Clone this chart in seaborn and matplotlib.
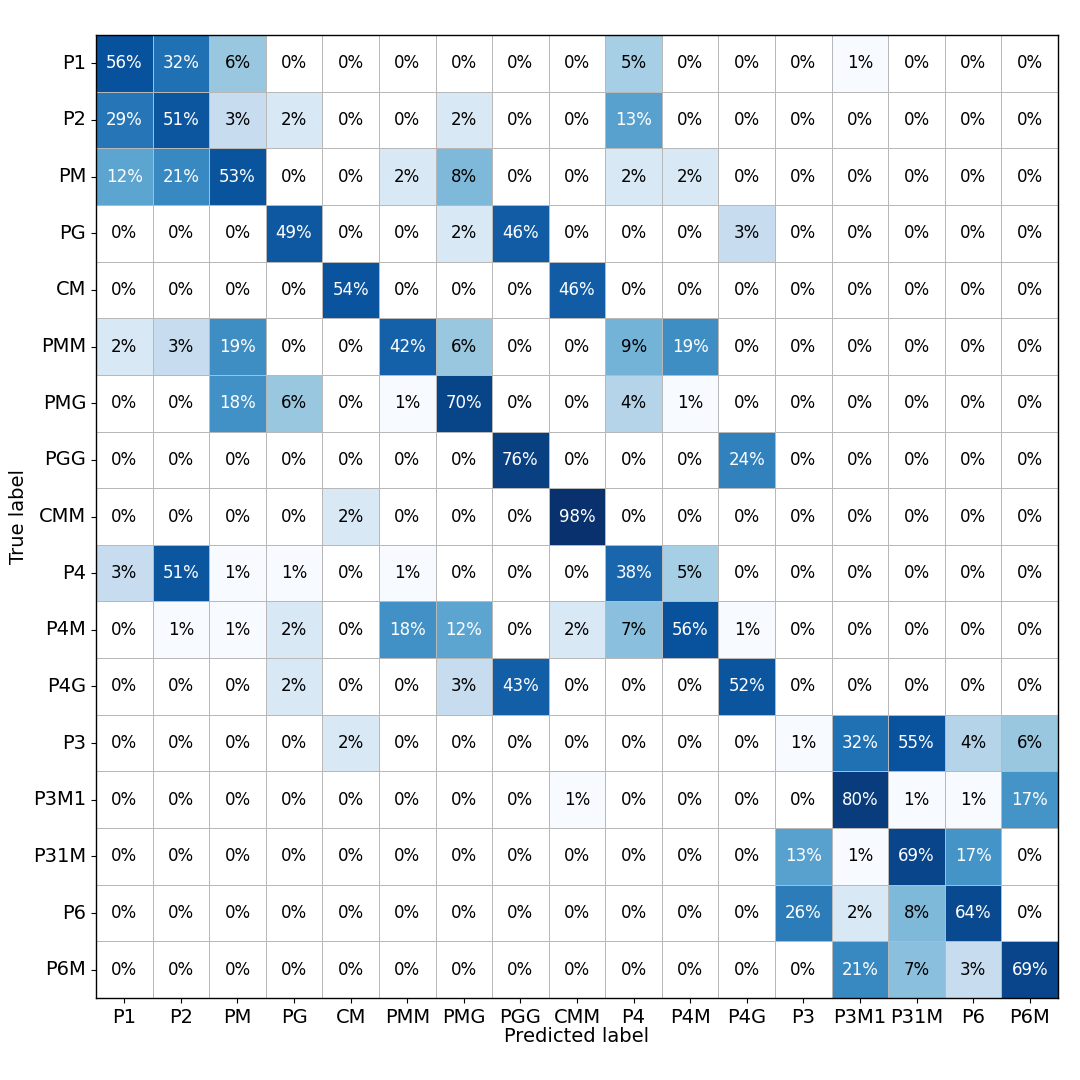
import numpy as np
import matplotlib
matplotlib.use("Agg")
import matplotlib.pyplot as plt
from matplotlib.colors import LogNorm
import seaborn as sns

labels = ["P1", "P2", "PM", "PG", "CM", "PMM", "PMG", "PGG", "CMM",
          "P4", "P4M", "P4G", "P3", "P3M1", "P31M", "P6", "P6M"]

# row = true label, column = predicted label, in percent
p1   = [56, 32, 6, 0, 0, 0, 0, 0, 0, 5, 0, 0, 0, 1, 0, 0, 0]
p2   = [29, 51, 3, 2, 0, 0, 2, 0, 0, 13, 0, 0, 0, 0, 0, 0, 0]
pm   = [12, 21, 53, 0, 0, 2, 8, 0, 0, 2, 2, 0, 0, 0, 0, 0, 0]
pg   = [0, 0, 0, 49, 0, 0, 2, 46, 0, 0, 0, 3, 0, 0, 0, 0, 0]
cm   = [0, 0, 0, 0, 54, 0, 0, 0, 46, 0, 0, 0, 0, 0, 0, 0, 0]
pmm  = [2, 3, 19, 0, 0, 42, 6, 0, 0, 9, 19, 0, 0, 0, 0, 0, 0]
pmg  = [0, 0, 18, 6, 0, 1, 70, 0, 0, 4, 1, 0, 0, 0, 0, 0, 0]
pgg  = [0, 0, 0, 0, 0, 0, 0, 76, 0, 0, 0, 24, 0, 0, 0, 0, 0]
cmm  = [0, 0, 0, 0, 2, 0, 0, 0, 98, 0, 0, 0, 0, 0, 0, 0, 0]
p4   = [3, 51, 1, 1, 0, 1, 0, 0, 0, 38, 5, 0, 0, 0, 0, 0, 0]
p4m  = [0, 1, 1, 2, 0, 18, 12, 0, 2, 7, 56, 1, 0, 0, 0, 0, 0]
p4g  = [0, 0, 0, 2, 0, 0, 3, 43, 0, 0, 0, 52, 0, 0, 0, 0, 0]
p3   = [0, 0, 0, 0, 2, 0, 0, 0, 0, 0, 0, 0, 1, 32, 55, 4, 6]
p3m1 = [0, 0, 0, 0, 0, 0, 0, 0, 1, 0, 0, 0, 0, 80, 1, 1, 17]
p31m = [0, 0, 0, 0, 0, 0, 0, 0, 0, 0, 0, 0, 13, 1, 69, 17, 0]
p6   = [0, 0, 0, 0, 0, 0, 0, 0, 0, 0, 0, 0, 26, 2, 8, 64, 0]
p6m  = [0, 0, 0, 0, 0, 0, 0, 0, 0, 0, 0, 0, 0, 21, 7, 3, 69]

cmat = np.array([p1, p2, pm, pg, cm, pmm, pmg, pgg, cmm,
                 p4, p4m, p4g, p3, p3m1, p31m, p6, p6m], dtype=float)
annot = np.array([["%d%%" % v for v in row] for row in cmat])

cmap = plt.get_cmap("Blues").copy()
cmap.set_bad("white")

fig = plt.figure(figsize=(10.8, 10.8), dpi=100)
ax = fig.add_axes([96/1080, 1 - 998/1080, (1058-96)/1080, (998-35)/1080])
sns.heatmap(cmat, ax=ax, cmap=cmap, norm=LogNorm(vmin=1, vmax=100),
            annot=annot, fmt="", annot_kws={"fontsize": 12},
            linewidths=0.7, linecolor="#b8b8b8", cbar=False,
            xticklabels=labels, yticklabels=labels, square=False)

for t in ax.texts:
    v = float(t.get_text().rstrip("%"))
    t.set_color("white" if v >= 10 else "black")

for s in ax.spines.values():
    s.set_visible(True)
    s.set_color("black")
    s.set_linewidth(1)

ax.tick_params(axis="both", labelsize=14, length=3.5)
plt.setp(ax.get_yticklabels(), rotation=0)
plt.setp(ax.get_xticklabels(), rotation=0)
ax.set_xlabel("Predicted label", fontsize=14, labelpad=0)
ax.set_ylabel("True label", fontsize=14)

fig.savefig("out.png", dpi=100)
